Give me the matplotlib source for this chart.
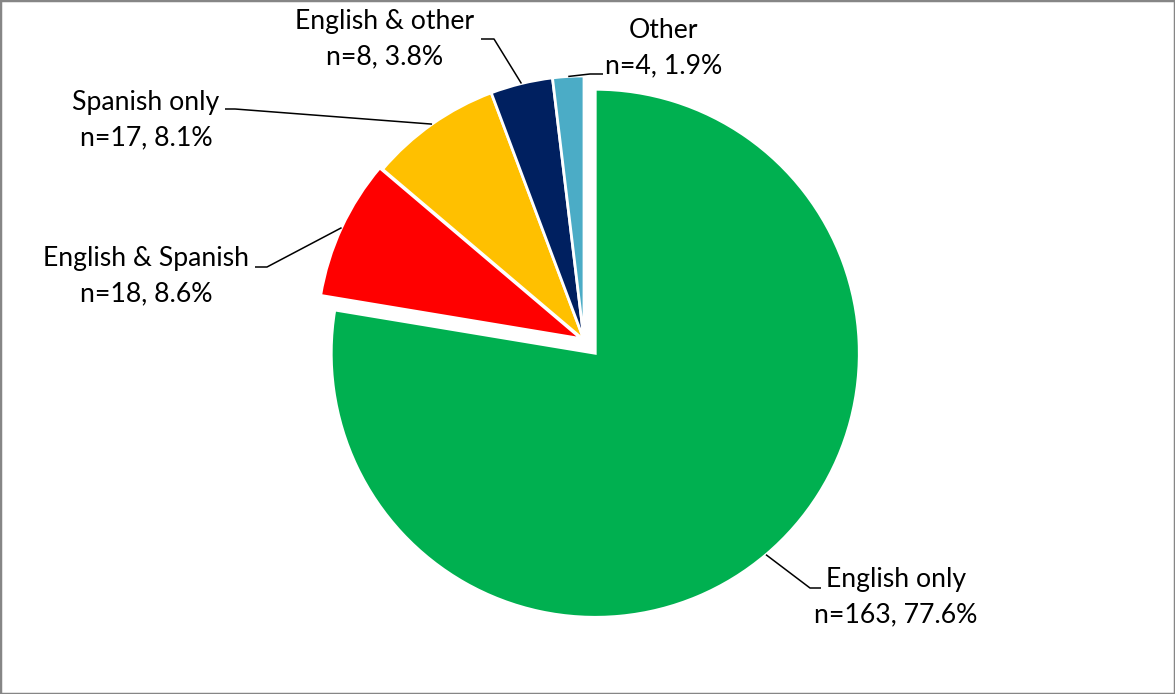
import numpy as np
import matplotlib.pyplot as plt
from matplotlib.patches import Rectangle

# Language spoken at home
labels = ["English only", "English & Spanish", "Spanish only", "English & other", "Other"]
counts = [163, 18, 17, 8, 4]
shares = [77.6, 8.6, 8.1, 3.8, 1.9]
colors = ["#00B050", "#FF0000", "#FFC000", "#002060", "#4BACC6"]
explode = [0.066, 0.012, 0, 0, 0]

# Canvas size, pie centre and radius in px (y measured from the top)
W, H = 1175, 694
CX, CY, R = 584, 340, 264

# label block centre, leader elbow and leader end, in px
label_px = [(896, 597), (146, 276), (146, 120), (385, 39), (664, 48)]
elbow_px = [(810, 588), (267, 267), (235, 109), (494, 39), (590, 74)]
end_px = [(821, 588), (255, 267), (225, 109), (481, 39), (603, 74)]


def px(p):
    # px -> data units (pie radius = 1)
    return ((p[0] - CX) / R, (CY - p[1]) / R)


fig = plt.figure(figsize=(W / 100, H / 100), dpi=100)
ax = fig.add_axes([0, 0, 1, 1])

wedges, _ = ax.pie(counts, colors=colors, explode=explode, startangle=90,
                   counterclock=False, radius=1,
                   wedgeprops=dict(edgecolor="white", linewidth=2))

ax.set_xlim(-CX / R, (W - CX) / R)
ax.set_ylim(-(H - CY) / R, CY / R)
ax.set_aspect("equal")
ax.axis("off")

for w, lab, n, s, lp, ep, np_ in zip(wedges, labels, counts, shares, label_px, elbow_px, end_px):
    # leader starts on the outer arc at the middle of the slice
    tm = np.deg2rad((w.theta1 + w.theta2) / 2)
    x0 = w.center[0] + w.r * np.cos(tm)
    y0 = w.center[1] + w.r * np.sin(tm)
    ex, ey = px(ep)
    nx, ny = px(np_)
    ax.plot([x0, ex, nx], [y0, ey, ny], color="black", lw=1.1, solid_capstyle="butt")
    tx, ty = px(lp)
    ax.text(tx, ty, f"{lab}\nn={n}, {s}%", ha="center", va="center",
            fontsize=19.2, family="Lato", linespacing=1.5, color="black")

# thin grey chart border
fig.patches.append(Rectangle((0, 0), 1, 1, transform=fig.transFigure, fill=False,
                             edgecolor="#868686", linewidth=2.5))

fig.savefig("out.png", dpi=100)
